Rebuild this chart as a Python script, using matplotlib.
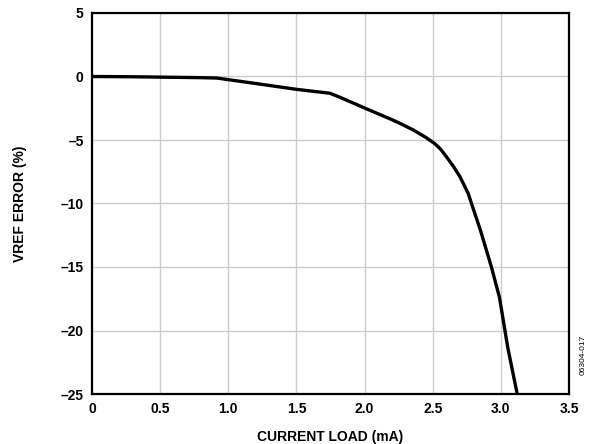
"""
VREF error versus current load.
"""

import matplotlib
matplotlib.use("Agg")
import matplotlib.pyplot as plt

# Values
load_ma = [0.0, 0.3, 0.5, 0.79, 0.915, 1.2, 1.5, 1.746, 1.82, 2.0, 2.19,
           2.26, 2.357, 2.45, 2.517, 2.56, 2.60, 2.65, 2.70, 2.76, 2.80,
           2.85, 2.93, 2.99, 3.05, 3.12]
vref_error = [0.0, -0.02, -0.05, -0.09, -0.12, -0.55, -1.01, -1.32, -1.64,
              -2.48, -3.35, -3.69, -4.21, -4.8, -5.3, -5.75, -6.31, -7.05,
              -7.89, -9.2, -10.5, -12.1, -14.97, -17.4, -21.3, -25.0]

x_ticks = [0, 0.5, 1.0, 1.5, 2.0, 2.5, 3.0, 3.5]
x_tick_labels = ["0", "0.5", "1.0", "1.5", "2.0", "2.5", "3.0", "3.5"]
y_ticks = [5, 0, -5, -10, -15, -20, -25]
y_tick_labels = ["5", "0", "–5", "–10", "–15", "–20", "–25"]

plt.rcParams["font.family"] = ["Liberation Sans", "DejaVu Sans"]

fig = plt.figure(figsize=(5.9, 4.44), dpi=100)
ax = fig.add_axes([92 / 590, 1 - 394 / 444, (569 - 92) / 590, (394 - 13) / 444])

ax.plot(load_ma, vref_error, color="black", linewidth=2.4,
        solid_joinstyle="round", solid_capstyle="butt", zorder=3)

ax.set_xlim(0, 3.5)
ax.set_ylim(-25, 5)

ax.set_xticks(x_ticks)
ax.set_xticklabels(x_tick_labels, fontsize=10, fontweight="bold")
ax.set_yticks(y_ticks)
ax.set_yticklabels(y_tick_labels, fontsize=10, fontweight="bold")
ax.tick_params(length=0, pad=6)

ax.grid(True, color="#cccccc", linewidth=1.0)
ax.set_axisbelow(True)

for spine in ax.spines.values():
    spine.set_linewidth(1.6)

ax.set_xlabel("CURRENT LOAD (mA)", fontsize=10, fontweight="bold", labelpad=10)
ax.set_ylabel("VREF ERROR (%)", fontsize=10, fontweight="bold", labelpad=24)

fig.text(583 / 590, 1 - 355 / 444, "06304-017", rotation=90,
         fontsize=6, ha="center", va="center")

fig.savefig("out.png", dpi=100)
